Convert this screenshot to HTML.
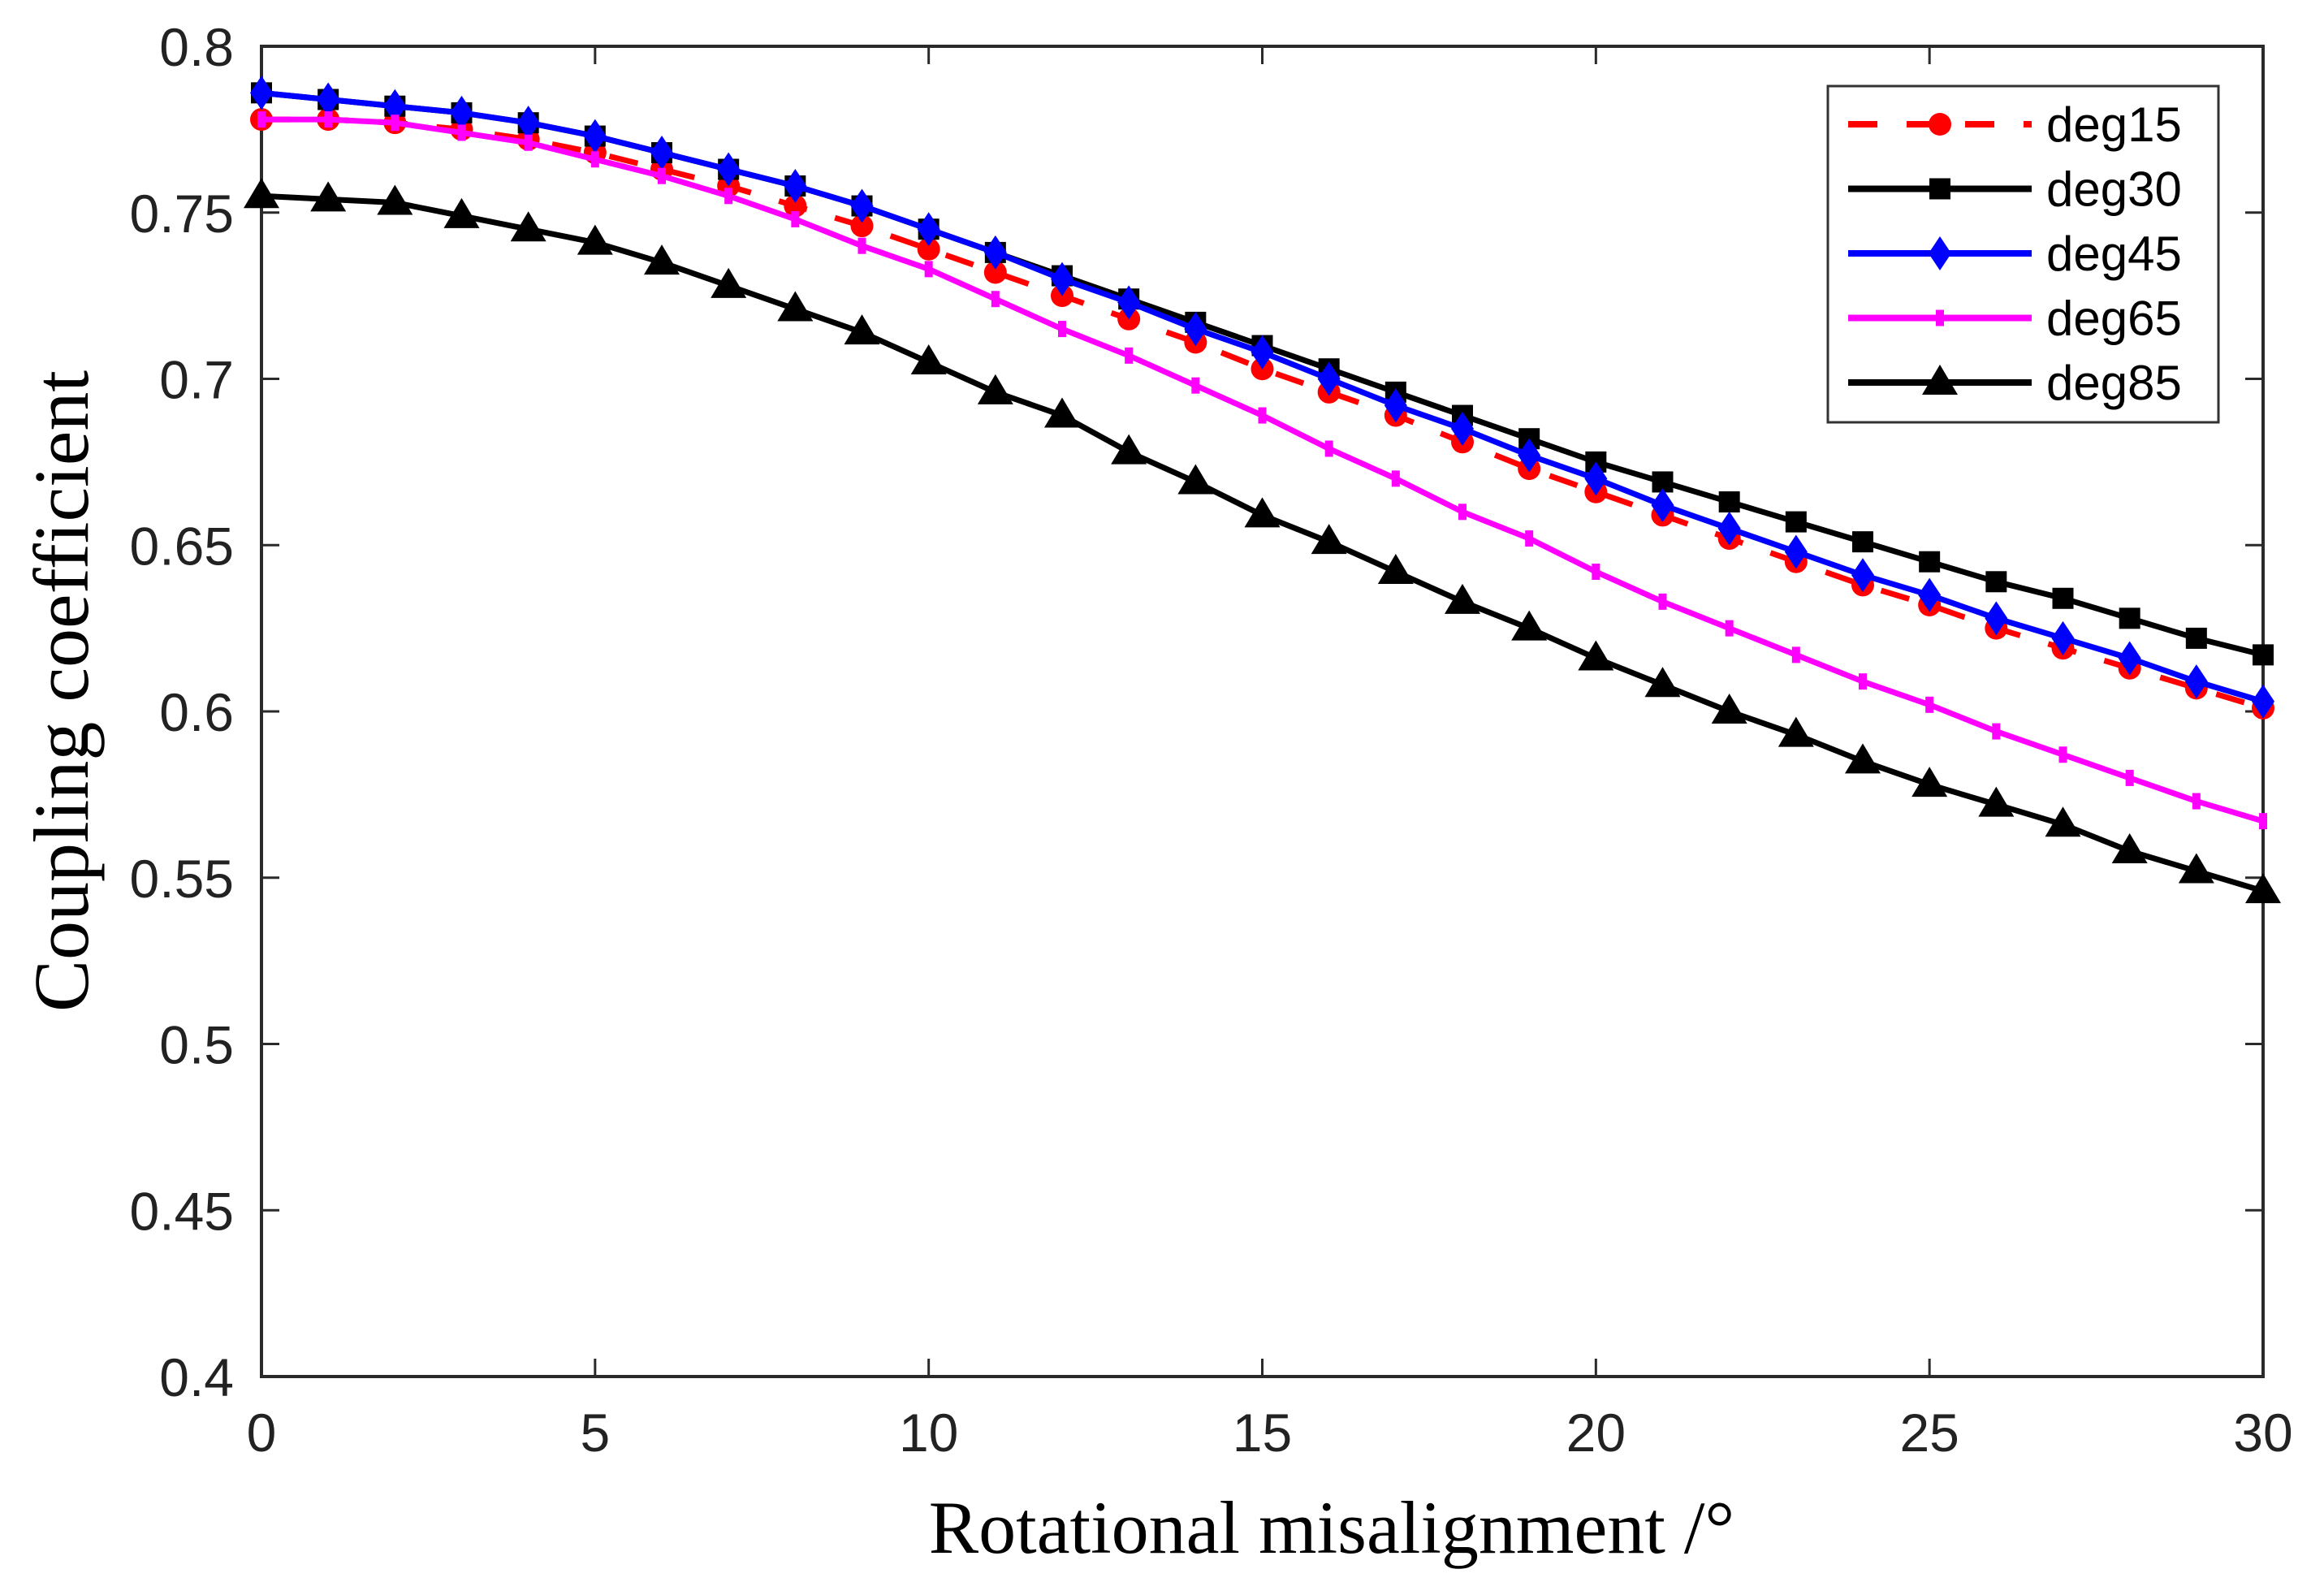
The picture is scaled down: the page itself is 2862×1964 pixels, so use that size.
<!DOCTYPE html>
<html><head><meta charset="utf-8"><style>
html,body{margin:0;padding:0;background:#fff;}
svg{display:block;}
</style></head><body>
<svg id="chart" width="2862" height="1964" viewBox="0 0 2862 1964" xmlns="http://www.w3.org/2000/svg">
<g id="axes"></g>
<g id="series"></g>
<g id="legend"></g>
<text x="1640" y="1912" text-anchor="middle" font-family="Liberation Serif, serif" font-size="92" fill="#000">Rotational misalignment /°</text>
<text transform="translate(108,851) rotate(-90)" text-anchor="middle" font-family="Liberation Serif, serif" font-size="96" fill="#000">Coupling coefficient</text>
</svg>
<script>
const xValues = [0,1,2,3,4,5,6,7,8,9,10,11,12,13,14,15,16,17,18,19,20,21,22,23,24,25,26,27,28,29,30];
const seriesNames = ['deg15','deg30','deg45','deg65','deg85'];
const deg15 = [0.778,0.778,0.777,0.775,0.772,0.768,0.763,0.758,0.752,0.746,0.739,0.732,0.725,0.718,0.711,0.703,0.696,0.689,0.681,0.673,0.666,0.659,0.652,0.645,0.638,0.632,0.625,0.619,0.613,0.607,0.601];
const deg30 = [0.786,0.784,0.782,0.780,0.777,0.773,0.768,0.763,0.758,0.752,0.745,0.738,0.731,0.724,0.717,0.710,0.703,0.696,0.689,0.682,0.675,0.669,0.663,0.657,0.651,0.645,0.639,0.634,0.628,0.622,0.617];
const deg45 = [0.786,0.784,0.782,0.780,0.777,0.773,0.768,0.763,0.758,0.752,0.745,0.738,0.730,0.723,0.715,0.708,0.700,0.692,0.685,0.677,0.670,0.662,0.655,0.648,0.641,0.635,0.628,0.622,0.616,0.609,0.603];
const deg65 = [0.778,0.778,0.777,0.774,0.771,0.766,0.761,0.755,0.748,0.740,0.733,0.724,0.715,0.707,0.698,0.689,0.679,0.670,0.660,0.652,0.642,0.633,0.625,0.617,0.609,0.602,0.594,0.587,0.580,0.573,0.567];
const deg85 = [0.755,0.754,0.753,0.749,0.745,0.741,0.735,0.728,0.721,0.714,0.705,0.696,0.689,0.678,0.669,0.659,0.651,0.642,0.633,0.625,0.616,0.608,0.600,0.593,0.585,0.578,0.572,0.566,0.558,0.552,0.546];
const xTicks = [0,5,10,15,20,25,30];
const yTicks = [0.4,0.45,0.5,0.55,0.6,0.65,0.7,0.75,0.8];
const yTickLabels = ['0.4','0.45','0.5','0.55','0.6','0.65','0.7','0.75','0.8'];

const NS='http://www.w3.org/2000/svg';
const L=322,R=2787,T=57,B=1695;
const X0=0,X1=30,Y0=0.4,Y1=0.8;
function sx(v){return L+(v-X0)/(X1-X0)*(R-L);}
function sy(v){return B-(v-Y0)/(Y1-Y0)*(B-T);}
function mk(tag,attrs,parent){const e=document.createElementNS(NS,tag);for(const k in attrs)e.setAttribute(k,attrs[k]);parent.appendChild(e);return e;}

const axes=document.getElementById('axes');
const frame=mk('rect',{x:L,y:T,width:R-L,height:B-T,fill:'none',stroke:'#2a2a2a','stroke-width':4},axes);


xTicks.forEach(v=>{
  const x=sx(v);
  const t1=mk('line',{x1:x,y1:B,x2:x,y2:B-22,stroke:'#2a2a2a','stroke-width':3},axes);
  
  
  const t2=mk('line',{x1:x,y1:T,x2:x,y2:T+22,stroke:'#2a2a2a','stroke-width':3},axes);
  
  
  const tx=mk('text',{x:x,y:1787,'text-anchor':'middle','font-family':'Liberation Sans, sans-serif','font-size':66,fill:'#222'},axes);
  tx.textContent=String(v);
  
  
});
yTicks.forEach((v,i)=>{
  const y=sy(v);
  const t1=mk('line',{x1:L,y1:y,x2:L+22,y2:y,stroke:'#2a2a2a','stroke-width':3},axes);
  
  
  const t2=mk('line',{x1:R,y1:y,x2:R-22,y2:y,stroke:'#2a2a2a','stroke-width':3},axes);
  
  
  const tx=mk('text',{x:288,y:y+24,'text-anchor':'end','font-family':'Liberation Sans, sans-serif','font-size':66,fill:'#222'},axes);
  tx.textContent=yTickLabels[i];
  
  
});

const styles={
  deg15:{color:'#ff0000',dash:'36 36',marker:'circle'},
  deg30:{color:'#000000',dash:null,marker:'square'},
  deg45:{color:'#0000ff',dash:null,marker:'diamond'},
  deg65:{color:'#ff00ff',dash:null,marker:'plus'},
  deg85:{color:'#000000',dash:null,marker:'triangle'}
};
const dataMap={deg15,deg30,deg45,deg65,deg85};

function marker(g,type,x,y,color){
  let e;
  if(type==='circle') e=mk('circle',{cx:x,cy:y,r:14,fill:color},g);
  else if(type==='square') e=mk('rect',{x:x-13,y:y-13,width:26,height:26,fill:color},g);
  else if(type==='diamond') e=mk('polygon',{points:`${x},${y-21} ${x+14},${y} ${x},${y+21} ${x-14},${y}`,fill:color},g);
  else if(type==='plus') e=mk('rect',{x:x-5,y:y-10,width:10,height:20,fill:color},g);
  else e=mk('polygon',{points:`${x},${y-22} ${x+22},${y+15} ${x-22},${y+15}`,fill:color},g);
  return e;
}

const sg=document.getElementById('series');
seriesNames.forEach(name=>{
  const st=styles[name], vals=dataMap[name];
  const g=mk('g',{},sg);
  
  
  const pts=xValues.map((xv,i)=>sx(xv)+','+sy(vals[i])).join(' ');
  const attrs={points:pts,fill:'none',stroke:st.color,'stroke-width':7,'stroke-linejoin':'round'};
  if(st.dash) attrs['stroke-dasharray']=st.dash;
  const pl=mk('polyline',attrs,g);
  
  
  xValues.forEach((xv,i)=>{
    const m=marker(g,st.marker,sx(xv),sy(vals[i]),st.color);
    
    
  });
});

const lg=document.getElementById('legend');
const box=mk('rect',{x:2251,y:106,width:481,height:414,fill:'#fff',stroke:'#333','stroke-width':3},lg);


seriesNames.forEach((name,i)=>{
  const st=styles[name];
  const y=153+i*79.5;
  const g=mk('g',{},lg);
  
  
  const a={x1:2276,y1:y,x2:2502,y2:y,stroke:st.color,'stroke-width':8};
  if(st.dash) a['stroke-dasharray']='36 36';
  mk('line',a,g);
  marker(g,st.marker,2389,y,st.color);
  const tx=mk('text',{x:2520,y:y+21,'font-family':'Liberation Sans, sans-serif','font-size':60,fill:'#000'},g);
  tx.textContent=name;
});
</script>
</body></html>
